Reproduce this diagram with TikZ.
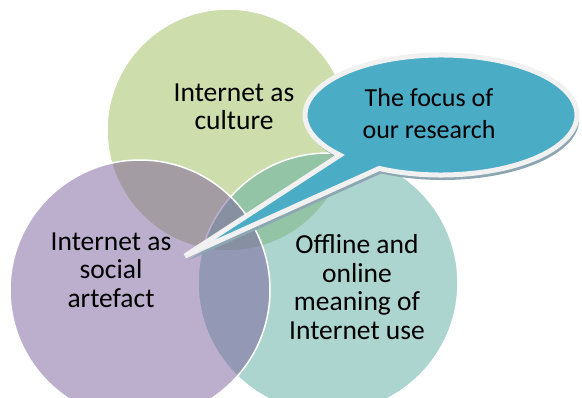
\documentclass[tikz,border=0pt]{standalone}
\usepackage{fontspec}
\setmainfont{Carlito}

\definecolor{cultureGreen}{RGB}{155,187,89}
\definecolor{offlineTeal}{RGB}{91,171,161}
\definecolor{artefactPurple}{RGB}{122,94,156}
\definecolor{focusBlue}{RGB}{75,172,198}
\definecolor{focusRim}{RGB}{241,241,241}
\definecolor{focusShade}{RGB}{140,166,178}

% outline of the speech bubble: ellipse with a long tail to the left
\newcommand{\focusoutline}{(bubble) ++(243:136 and 60)
    arc[start angle=243, end angle=582, x radius=136, y radius=60] -- (tip) -- cycle}

\begin{document}
\begin{tikzpicture}[x=1pt, y=1pt,
        venn/.style={circle, draw=white, line width=1.5pt, fill opacity=0.5, draw opacity=1,
            minimum size=#1, inner sep=0pt},
        label/.style={align=center, font=\fontsize{27.5}{28.5}\selectfont},
        bubbletext/.style={align=center, font=\fontsize{26}{32}\selectfont},
    ]
    \useasboundingbox (0,0) rectangle (582,397);

    % the three sets
    \node[venn=242pt, fill=cultureGreen] (culture) at (228,267) {};
    \node[venn=260pt, fill=offlineTeal] (offline) at (328,114) {};
    \node[venn=260pt, fill=artefactPurple] (artefact) at (140,107) {};

    \node[label] (cultureText) at (234,290) {Internet as\\culture};
    \node[label] (artefactText) at (111,127) {Internet as\\social\\artefact};
    \node[label] (offlineText) at (357,110) {Offline and\\online\\meaning of\\Internet use};

    % speech bubble pointing at the overlap
    \coordinate (bubble) at (441,282);
    \coordinate (tip) at (185,141);
    \fill[focusShade, transform canvas={shift={(2pt,-5pt)}}] \focusoutline;
    \draw[focusRim, fill=focusBlue, line width=5pt] \focusoutline;
    \node[bubbletext] (focus) at (429,283) {The focus of\\our research};
\end{tikzpicture}
\end{document}
